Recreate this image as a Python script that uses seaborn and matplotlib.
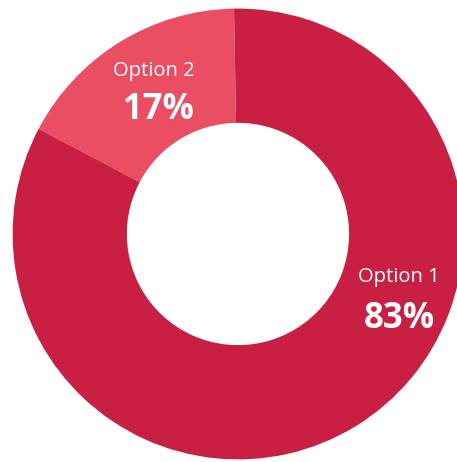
import matplotlib
matplotlib.use("Agg")
import matplotlib.pyplot as plt
import seaborn as sns

# Data
categories = ["Option 2", "Option 1"]
values = [17, 83]
colors = ["#EB4D63", "#C91F42"]

sns.set_theme(style="white")
plt.rcParams["font.family"] = ["Open Sans", "DejaVu Sans"]

fig = plt.figure(figsize=(4.57, 4.62), dpi=100)
ax = fig.add_axes([0, 0, 1, 1])
ax.pie(values, colors=colors, startangle=91.0, counterclock=True,
       radius=1.0, wedgeprops=dict(width=0.507, linewidth=0))
ax.set_aspect("auto")
ax.set_xlim(-1.056, 0.972)
ax.set_ylim(-1.0115, 1.038)
ax.axis("off")

label_pos = {"Option 2": ((-0.373, 0.724), (-0.355, 0.550)),
             "Option 1": ((0.714, -0.192), (0.716, -0.377))}
for cat, val in zip(categories, values):
    (x1, y1), (x2, y2) = label_pos[cat]
    ax.text(x1, y1, cat, color="white", fontsize=14.5, ha="center", va="center")
    ax.text(x2, y2, f"{val}%", color="white", fontsize=25, fontweight="bold",
            ha="center", va="center")

fig.savefig("out.png", dpi=100, facecolor="white")
